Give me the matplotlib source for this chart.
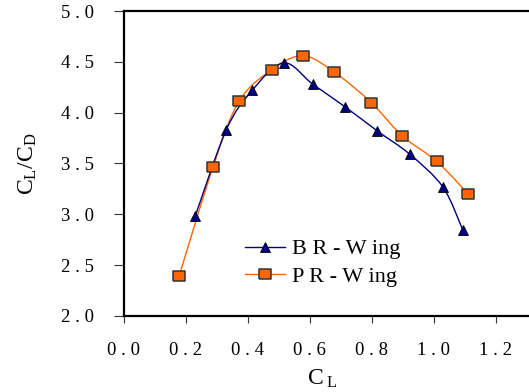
import numpy as np
import matplotlib
matplotlib.use("Agg")
import matplotlib.pyplot as plt
from matplotlib.path import Path
from matplotlib.patches import PathPatch
from matplotlib.lines import Line2D

plt.rcParams['font.family'] = ['Liberation Serif', 'DejaVu Serif']
plt.rcParams['mathtext.fontset'] = 'custom'
plt.rcParams['mathtext.rm'] = 'Liberation Serif'
plt.rcParams['mathtext.it'] = 'Liberation Serif:italic'

# data
br_cl = [0.231, 0.331, 0.415, 0.516, 0.610, 0.713, 0.818, 0.923, 1.029, 1.093]
br_ld = [2.98, 3.83, 4.22, 4.49, 4.28, 4.06, 3.82, 3.59, 3.27, 2.85]
pr_cl = [0.179, 0.289, 0.372, 0.477, 0.578, 0.679, 0.798, 0.899, 1.010, 1.111]
pr_ld = [2.39, 3.47, 4.11, 4.42, 4.56, 4.40, 4.10, 3.77, 3.52, 3.20]

xticks = [0.0, 0.2, 0.4, 0.6, 0.8, 1.0, 1.2]
yticks = [2.0, 2.5, 3.0, 3.5, 4.0, 4.5, 5.0]

navy = '#000080'
orange = '#FF6600'


def smooth_path(x, y):
    # excel style smoothed line: cubic bezier segments (catmull-rom control points)
    p = np.column_stack([x, y])
    verts = [p[0]]
    codes = [Path.MOVETO]
    n = len(p)
    for i in range(n - 1):
        p0 = p[i - 1] if i > 0 else p[i]
        p3 = p[i + 2] if i + 2 < n else p[i + 1]
        c1 = p[i] + (p[i + 1] - p0) / 6.0
        c2 = p[i + 1] - (p3 - p[i]) / 6.0
        verts += [c1, c2, p[i + 1]]
        codes += [Path.CURVE4] * 3
    return Path(verts, codes)


fig = plt.figure(figsize=(5.29, 3.92), dpi=100)
ax = fig.add_axes([123.5 / 529, 76 / 392, 434.4 / 529, 305 / 392])

ax.add_patch(PathPatch(smooth_path(pr_cl, pr_ld), fill=False, edgecolor=orange, lw=1.0, zorder=2))
ax.add_patch(PathPatch(smooth_path(br_cl, br_ld), fill=False, edgecolor=navy, lw=1.0, zorder=3))

rect = [(-1.25, -1), (1.25, -1), (1.25, 1), (-1.25, 1), (-1.25, -1)]
ax.plot(pr_cl, pr_ld, ls='none', marker=rect, ms=9, mfc=orange, mec='#333333', mew=1.1, zorder=4)
ax.plot(br_cl, br_ld, ls='none', marker='^', ms=7, mfc=navy, mec='black', mew=0.6, zorder=5)

ax.set_xlim(0, 1.4)
ax.set_ylim(2.0, 5.0)
ax.set_xticks(xticks)
ax.set_yticks(yticks)
ax.set_xticklabels([' . '.join(('%.1f' % v).split('.')) for v in xticks])
ax.set_yticklabels([' . '.join(('%.1f' % v).split('.')) for v in yticks])
ax.tick_params(axis='y', direction='out', length=7, width=0.8, color='#333333', pad=14, labelsize=13.5)
ax.tick_params(axis='x', direction='out', length=5, width=0.8, color='#333333', pad=14, labelsize=13.5)
for s in ax.spines.values():
    s.set_linewidth(1.6)

ax.set_ylabel(r'$\mathrm{C_L/C_D}$', fontsize=17)
ax.yaxis.set_label_coords(-0.195, 0.5)
ax.set_xlabel(r'$\mathrm{C}_{\ \mathrm{L}}$', fontsize=17)
ax.xaxis.set_label_coords(0.459, -0.17)

handles = [Line2D([], [], color=navy, lw=1.0, marker='^', ms=7, mfc=navy, mec='black', mew=0.6),
           Line2D([], [], color=orange, lw=1.0, marker=rect, ms=9, mfc=orange, mec='#333333', mew=1.1)]
leg = fig.legend(handles, ['B R - W ing', 'P R - W ing'], loc='center left',
                 bbox_to_anchor=(245 / 529, 0.330), frameon=False, fontsize=16,
                 handlelength=1.8, handletextpad=0.3, labelspacing=0.3, borderpad=0,
                 borderaxespad=0, numpoints=1)

fig.savefig('out.png', dpi=100)
